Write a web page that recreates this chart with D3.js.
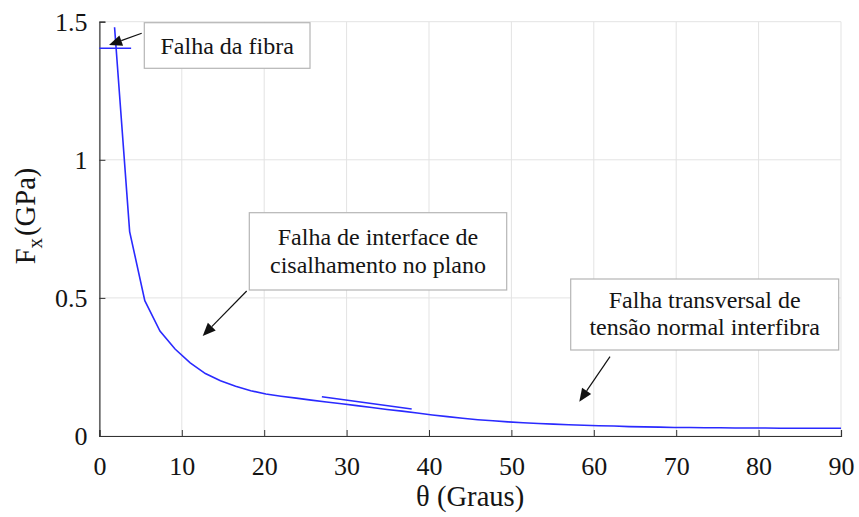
<!DOCTYPE html>
<html>
<head>
<meta charset="utf-8">
<script src="https://cdn.jsdelivr.net/npm/d3@7"></script>
<style>
  html, body { margin: 0; padding: 0; background: #fff; }
  svg { display: block; }
</style>
</head>
<body>
<svg id="chart" width="859" height="517"></svg>
<script>
// ---- data ----
const theta = [1.84, 3.67, 5.51, 7.35, 9.18, 11.02, 12.86, 14.69, 16.53, 18.37,
  20.2, 22.04, 23.88, 25.71, 27.55, 29.39, 31.22, 33.06, 34.9, 36.73,
  38.57, 40.41, 42.24, 44.08, 45.92, 47.76, 49.59, 51.43, 53.27, 55.1,
  56.94, 58.78, 60.61, 62.45, 64.29, 66.12, 67.96, 69.8, 71.63, 73.47,
  75.31, 77.14, 78.98, 80.82, 82.65, 84.49, 86.33, 88.16, 90];
const fx = [1.48, 0.74, 0.49, 0.38, 0.315, 0.265, 0.226, 0.200, 0.180, 0.164,
  0.152, 0.144, 0.137, 0.130, 0.123, 0.117, 0.110, 0.103, 0.096, 0.090,
  0.083, 0.076, 0.070, 0.064, 0.059, 0.055, 0.051, 0.048, 0.045, 0.043,
  0.041, 0.039, 0.037, 0.036, 0.034, 0.033, 0.032, 0.031, 0.031, 0.030,
  0.030, 0.029, 0.029, 0.029, 0.028, 0.028, 0.028, 0.028, 0.028];
const fiberTheta = [0, 3.85];
const fiberFx = [1.404, 1.404];
const shearTheta = [27, 37.9];
const shearFx = [0.142, 0.098];
const xTicks = [0, 10, 20, 30, 40, 50, 60, 70, 80, 90];
const yTicks = [0, 0.5, 1, 1.5];
const yTickLabels = ["0", "0.5", "1", "1.5"];
const xLabel = "θ (Graus)";
const annFiber = ["Falha da fibra"];
const annShear = ["Falha de interface de", "cisalhamento no plano"];
const annTrans = ["Falha transversal de", "tensão normal interfibra"];

// ---- layout ----
const FONT = "Liberation Serif";
const TXT = "#141414";
const L = 99.4, R = 841, T = 21.7, B = 436;
const svg = d3.select("#chart");
const x = d3.scaleLinear().domain([0, 90]).range([L, R]);
const y = d3.scaleLinear().domain([0, 1.5]).range([B, T]);

// grid
const grid = svg.append("g").attr("stroke", "#e3e3e3").attr("stroke-width", 1);
xTicks.forEach(t => grid.append("line").attr("x1", x(t)).attr("x2", x(t)).attr("y1", T).attr("y2", B));
yTicks.forEach(t => grid.append("line").attr("x1", L).attr("x2", R).attr("y1", y(t)).attr("y2", y(t)));

// axes
const xAxis = d3.axisBottom(x).tickValues(xTicks).tickSize(-6).tickPadding(0).tickFormat(d3.format("d"));
const gx = svg.append("g").attr("transform", `translate(0,${B})`).call(xAxis)
  .attr("font-family", FONT).attr("font-size", 26);
gx.select(".domain").attr("stroke", "#333").attr("stroke-width", 1.2);
gx.selectAll(".tick line").attr("stroke", "#333");
gx.selectAll(".tick text").attr("y", 39).attr("dy", null).attr("fill", TXT);

const yAxis = d3.axisLeft(y).tickValues(yTicks).tickSize(-6).tickPadding(0)
  .tickFormat((d, i) => yTickLabels[i]);
const gy = svg.append("g").attr("transform", `translate(${L},0)`).call(yAxis)
  .attr("font-family", FONT).attr("font-size", 26);
gy.select(".domain").attr("stroke", "#333").attr("stroke-width", 1.2);
gy.selectAll(".tick line").attr("stroke", "#333");
gy.selectAll(".tick text").attr("x", -12).attr("dy", "0.34em").attr("fill", TXT);

// axis titles
svg.append("text").attr("x", (L + R) / 2).attr("y", 506).attr("text-anchor", "middle")
  .attr("font-family", FONT).attr("font-size", 28.6).attr("fill", TXT).text(xLabel);
const yl = svg.append("text").attr("transform", `translate(35,216) rotate(-90)`)
  .attr("text-anchor", "middle").attr("font-family", FONT).attr("font-size", 28.6).attr("fill", TXT);
yl.append("tspan").text("F");
yl.append("tspan").attr("dy", 7).attr("font-size", 21).text("x");
yl.append("tspan").attr("dy", -7).attr("dx", 2).text("(GPa)");

// series
const line = d3.line().x(d => x(d[0])).y(d => y(d[1]));
const blue = "#2a2aff";
svg.append("path").datum(theta.map((t, i) => [t, fx[i]]))
  .attr("d", line).attr("fill", "none").attr("stroke", blue).attr("stroke-width", 1.6);
svg.append("path").datum(fiberTheta.map((t, i) => [t, fiberFx[i]]))
  .attr("d", line).attr("fill", "none").attr("stroke", blue).attr("stroke-width", 1.6);
svg.append("path").datum(shearTheta.map((t, i) => [t, shearFx[i]]))
  .attr("d", line).attr("fill", "none").attr("stroke", blue).attr("stroke-width", 1.6);

// annotations
function arrow(x1, y1, x2, y2) {
  const ang = Math.atan2(y2 - y1, x2 - x1);
  const len = 13, w = 5.5;
  const bx = x2 - len * Math.cos(ang), by = y2 - len * Math.sin(ang);
  svg.append("line").attr("x1", x1).attr("y1", y1).attr("x2", bx).attr("y2", by)
    .attr("stroke", "#111").attr("stroke-width", 1.2);
  const px = -Math.sin(ang) * w, py = Math.cos(ang) * w;
  svg.append("path")
    .attr("d", `M${x2},${y2}L${bx + px},${by + py}L${bx - px},${by - py}Z`)
    .attr("fill", "#111");
}
function box(x0, y0, x1, y1, lines, baselines) {
  svg.append("rect").attr("x", x0).attr("y", y0).attr("width", x1 - x0).attr("height", y1 - y0)
    .attr("fill", "#fff").attr("stroke", "#b5b5b5").attr("stroke-width", 1.2);
  lines.forEach((s, i) => svg.append("text").attr("x", (x0 + x1) / 2).attr("y", baselines[i])
    .attr("text-anchor", "middle").attr("font-family", FONT).attr("font-size", 24)
    .attr("fill", TXT).text(s));
}
arrow(141.7, 33.3, 109, 45);
box(144.3, 22.7, 310, 68.3, annFiber, [53.5]);
arrow(246.7, 291, 202.7, 336);
box(249.3, 212.7, 506.7, 290, annShear, [245, 272.7]);
arrow(610, 356.7, 579.3, 401.7);
box(570.7, 279, 838.7, 350, annTrans, [307.7, 335]);
</script>
</body>
</html>
